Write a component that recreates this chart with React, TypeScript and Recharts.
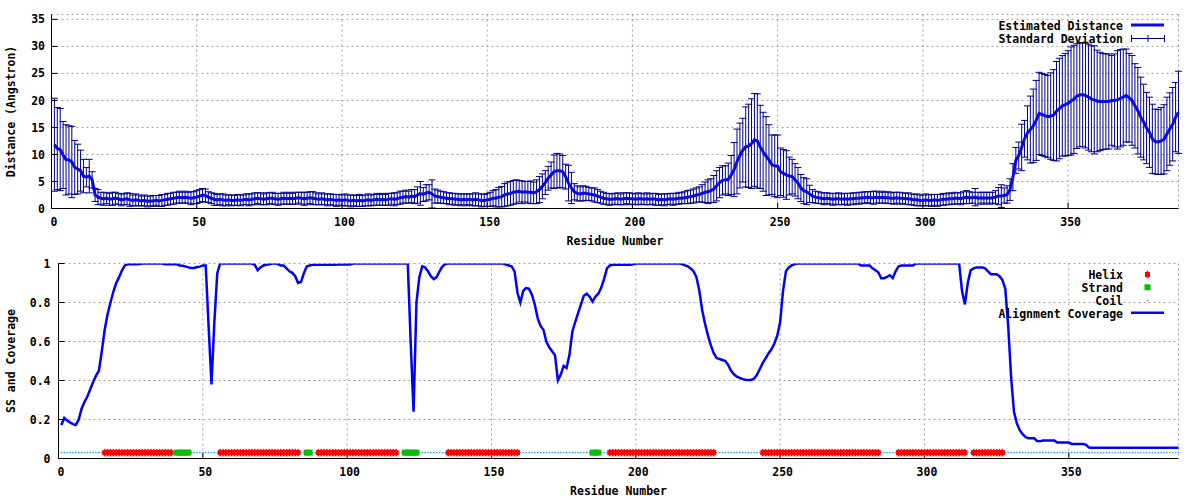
import React from 'react'
import { ComposedChart, Line, Scatter, XAxis, YAxis, CartesianGrid, ErrorBar, Legend } from 'recharts'

const FONT = "'DejaVu Sans Mono', 'Liberation Mono', monospace"
const MEAN_BLUE = '#0a0ae6'
const BAR_NAVY = '#00008b'
const COV_BLUE = '#0000ff'
const HELIX_RED = '#ff0000'
const STRAND_GREEN = '#00c000'
const COIL_BLUE = '#1e90ff'
const GRID = '#a0a0a0'

const xTicks = [0, 50, 100, 150, 200, 250, 300, 350]
const distTicks = [0, 5, 10, 15, 20, 25, 30, 35]
const covTicks = [0, 0.2, 0.4, 0.6, 0.8, 1]

// estimated distance per residue (1..388)
const meanDist = [
  11.8, 11.1, 10.9, 9.9, 9.0, 9.0, 8.6, 7.6, 7.3, 7.0,
  6.0, 5.8, 6.0, 5.3, 2.5, 2.1, 1.9, 1.8, 1.9, 1.7,
  1.8, 1.9, 1.8, 1.6, 1.7, 1.8, 1.6, 1.5, 1.6, 1.5,
  1.4, 1.5, 1.3, 1.4, 1.4, 1.5, 1.4, 1.5, 1.6, 1.7,
  1.8, 1.9, 2.0, 2.1, 2.0, 2.1, 2.0, 1.9, 2.0, 2.1,
  2.3, 2.5, 2.4, 2.1, 1.9, 1.7, 1.6, 1.7, 1.6, 1.5,
  1.6, 1.5, 1.5, 1.6, 1.5, 1.6, 1.7, 1.6, 1.7, 1.8,
  1.9, 1.8, 1.7, 1.8, 1.9, 1.9, 1.8, 1.7, 1.8, 1.9,
  1.8, 1.9, 1.8, 1.9, 2.0, 1.9, 1.8, 1.9, 2.0, 1.9,
  1.8, 1.7, 1.8, 1.7, 1.6, 1.7, 1.6, 1.5, 1.6, 1.5,
  1.6, 1.5, 1.4, 1.5, 1.4, 1.5, 1.4, 1.5, 1.6, 1.5,
  1.6, 1.7, 1.6, 1.7, 1.6, 1.7, 1.8, 1.7, 1.8, 2.0,
  2.1, 2.2, 2.1, 2.3, 2.2, 2.5, 2.8, 2.6, 2.9, 3.0,
  2.7, 2.3, 2.2, 2.1, 2.0, 1.9, 1.8, 1.8, 1.7, 1.7,
  1.6, 1.7, 1.6, 1.7, 1.6, 1.7, 1.6, 1.5, 1.5, 1.6,
  1.7, 1.9, 1.9, 2.1, 2.2, 2.5, 2.7, 2.8, 3.0, 3.1,
  3.2, 3.0, 3.1, 3.0, 3.0, 2.9, 3.1, 3.5, 4.1, 4.8,
  5.6, 6.2, 6.8, 7.0, 7.0, 6.8, 5.9, 4.7, 3.8, 3.1,
  2.8, 2.7, 2.8, 2.8, 2.7, 2.6, 2.5, 2.3, 2.1, 1.9,
  1.8, 1.7, 1.7, 1.8, 1.8, 1.7, 1.8, 1.9, 1.8, 1.8,
  1.7, 1.8, 1.8, 1.7, 1.8, 1.7, 1.8, 1.7, 1.6, 1.7,
  1.6, 1.7, 1.8, 1.7, 1.8, 1.9, 1.9, 2.0, 2.1, 2.2,
  2.3, 2.5, 2.6, 2.8, 3.0, 3.1, 3.3, 3.6, 4.2, 4.8,
  5.2, 5.3, 5.4, 6.2, 7.2, 8.7, 9.8, 10.8, 11.4, 11.6,
  12.0, 12.7, 12.5, 11.4, 10.5, 9.7, 9.0, 8.1, 7.9, 7.8,
  6.8, 6.5, 6.2, 6.0, 5.9, 5.3, 4.7, 3.8, 3.3, 3.1,
  2.7, 2.3, 2.1, 2.0, 1.9, 1.8, 1.9, 1.8, 1.7, 1.8,
  1.8, 1.7, 1.8, 1.7, 1.8, 1.8, 1.9, 1.9, 2.0, 2.0,
  2.1, 2.0, 2.0, 2.1, 2.0, 2.1, 2.0, 2.0, 1.9, 1.9,
  2.0, 1.9, 1.9, 1.8, 1.8, 1.7, 1.6, 1.6, 1.5, 1.5,
  1.6, 1.5, 1.5, 1.6, 1.5, 1.6, 1.7, 1.7, 1.8, 1.8,
  1.9, 1.9, 1.8, 2.0, 2.1, 2.0, 2.0, 2.1, 1.9, 2.0,
  1.9, 2.0, 1.9, 2.0, 2.1, 2.3, 2.3, 2.4, 2.6, 3.5,
  5.8, 8.9, 9.8, 11.3, 12.9, 14.0, 14.6, 15.3, 16.3, 17.6,
  17.4, 17.2, 17.0, 17.1, 17.3, 18.0, 18.5, 19.0, 19.2, 19.5,
  19.9, 20.2, 20.8, 21.0, 21.1, 20.9, 20.6, 20.3, 20.1, 19.9,
  19.8, 19.8, 19.8, 19.8, 20.0, 20.0, 20.1, 20.4, 20.6, 20.9,
  20.5, 20.0, 19.0, 18.1, 16.9, 16.0, 14.9, 14.1, 12.9, 12.4,
  12.3, 12.5, 12.8, 13.8, 14.7, 15.6, 16.9, 17.8,
]

// standard deviation per residue
const stdDist = [
  8.6, 7.6, 7.6, 6.2, 6.5, 6.3, 6.6, 5.0, 4.6, 3.8,
  3.1, 1.8, 3.1, 1.5, 1.2, 1.4, 1.1, 1.2, 1.0, 1.1,
  1.2, 1.1, 1.0, 1.1, 1.0, 1.1, 1.2, 1.0, 1.1, 1.0,
  0.9, 1.0, 1.0, 0.9, 1.0, 0.9, 1.0, 1.1, 1.0, 1.1,
  1.0, 1.1, 1.0, 1.1, 1.0, 1.1, 1.0, 1.2, 1.1, 1.2,
  1.2, 1.2, 1.2, 1.0, 1.0, 1.1, 1.0, 1.0, 1.1, 1.0,
  0.9, 1.0, 0.9, 1.0, 1.0, 0.9, 1.0, 1.1, 1.0, 1.1,
  1.0, 1.1, 1.0, 1.1, 1.0, 1.1, 1.0, 1.1, 1.0, 1.1,
  1.0, 1.1, 1.0, 1.1, 1.0, 1.1, 1.2, 1.1, 1.1, 1.2,
  1.1, 1.0, 1.1, 1.0, 1.1, 1.0, 1.0, 1.1, 1.0, 1.0,
  1.1, 1.0, 1.1, 1.0, 1.0, 1.1, 1.0, 1.0, 1.1, 1.0,
  1.0, 1.1, 1.0, 1.1, 1.0, 1.1, 1.0, 1.2, 1.1, 1.2,
  1.1, 1.2, 1.1, 1.2, 1.3, 1.5, 2.2, 1.3, 1.5, 1.4,
  2.6, 1.3, 1.2, 1.1, 1.1, 1.0, 1.1, 1.0, 1.1, 1.0,
  1.1, 1.0, 1.1, 1.0, 1.1, 1.2, 1.1, 1.2, 1.1, 1.2,
  1.3, 1.4, 1.6, 1.8, 1.9, 2.1, 2.2, 2.2, 2.2, 2.2,
  2.0, 2.1, 1.9, 2.0, 2.1, 2.0, 2.2, 2.4, 2.3, 2.2,
  2.2, 2.4, 3.1, 3.2, 3.1, 3.0, 2.3, 3.3, 2.9, 1.5,
  1.4, 1.3, 1.4, 1.3, 1.2, 1.2, 1.3, 1.2, 1.1, 1.1,
  1.0, 1.1, 1.0, 1.0, 1.1, 1.0, 1.1, 1.0, 1.1, 1.0,
  1.0, 1.1, 1.0, 1.0, 1.1, 1.0, 1.0, 1.1, 1.0, 1.0,
  1.1, 1.0, 1.0, 1.1, 1.0, 1.1, 1.0, 1.1, 1.2, 1.2,
  1.3, 1.3, 1.4, 1.6, 1.9, 2.2, 2.2, 2.5, 2.8, 2.8,
  2.7, 2.6, 3.0, 3.6, 5.0, 6.0, 6.0, 5.9, 7.4, 7.7,
  8.3, 8.6, 8.7, 7.7, 7.3, 7.3, 6.5, 5.5, 5.7, 5.8,
  4.4, 4.4, 4.5, 3.5, 3.2, 3.0, 2.9, 2.5, 2.4, 2.4,
  1.6, 1.2, 1.1, 1.1, 1.0, 1.1, 1.0, 1.0, 1.1, 1.0,
  1.1, 1.0, 1.0, 1.1, 1.0, 1.1, 1.0, 1.1, 1.0, 1.1,
  1.0, 1.1, 1.2, 1.1, 1.0, 1.1, 1.0, 1.1, 1.0, 1.1,
  1.0, 1.1, 1.0, 1.0, 1.1, 1.0, 1.0, 1.1, 1.0, 1.0,
  1.1, 1.0, 1.1, 1.0, 1.1, 1.0, 1.1, 1.0, 1.1, 1.0,
  1.1, 1.0, 1.1, 1.1, 1.2, 1.1, 1.0, 1.6, 1.1, 1.0,
  1.1, 1.0, 1.1, 1.0, 1.2, 1.6, 2.1, 1.4, 1.6, 2.0,
  2.5, 2.4, 2.5, 4.3, 3.4, 5.0, 6.2, 6.8, 7.4, 7.6,
  7.6, 7.6, 7.6, 8.0, 8.4, 9.2, 9.3, 9.3, 9.5, 9.7,
  10.0, 10.0, 9.7, 9.6, 9.6, 9.7, 9.8, 9.8, 10.0, 9.4,
  9.1, 8.9, 8.8, 8.8, 8.3, 8.6, 9.1, 9.0, 8.9, 8.6,
  8.2, 8.3, 7.8, 8.0, 7.4, 7.0, 6.6, 6.5, 6.4, 6.0,
  6.0, 6.2, 6.4, 6.8, 6.7, 6.8, 6.4, 7.6,
]

// alignment coverage per residue
const coverage = [
  0.172, 0.208, 0.195, 0.185, 0.176, 0.172, 0.2, 0.255, 0.29, 0.318,
  0.355, 0.393, 0.425, 0.45, 0.55, 0.66, 0.74, 0.8, 0.855, 0.9,
  0.93, 0.965, 0.99, 0.996, 0.996, 0.996, 0.996, 0.997, 1, 1,
  1, 1, 1, 1, 1, 1, 0.996, 0.996, 0.996, 0.996,
  0.996, 0.99, 0.988, 0.985, 0.98, 0.977, 0.977, 0.982, 0.984, 0.99,
  0.99, 0.68, 0.38, 0.7, 0.95, 1, 1, 1, 1, 1,
  1, 1, 1, 1, 1, 1, 1, 0.993, 0.966, 0.98,
  0.99, 0.994, 0.996, 1, 1, 0.997, 0.99, 0.99, 0.975, 0.96,
  0.952, 0.935, 0.9, 0.905, 0.95, 0.985, 0.99, 0.993, 0.993, 0.993,
  0.993, 0.993, 0.993, 0.993, 0.993, 0.993, 0.995, 0.995, 0.995, 0.995,
  0.995, 1, 1, 1, 1, 1, 1, 1, 1, 1,
  1, 1, 1, 1, 1, 1, 1, 1, 1, 1,
  1, 0.6, 0.24, 0.8, 0.93, 0.985, 0.98, 0.96, 0.935, 0.92,
  0.93, 0.96, 0.985, 0.997, 1, 1, 1, 1, 1, 1,
  1, 1, 1, 1, 1, 1, 1, 1, 1, 1,
  1, 1, 1, 1, 0.995, 0.99, 0.985, 0.96, 0.85, 0.8,
  0.86, 0.875, 0.87, 0.84, 0.79, 0.72, 0.68, 0.66, 0.6, 0.57,
  0.55, 0.53, 0.4, 0.43, 0.475, 0.465, 0.53, 0.65, 0.7, 0.745,
  0.79, 0.835, 0.845, 0.83, 0.805, 0.83, 0.845, 0.875, 0.92, 0.975,
  0.99, 0.993, 0.993, 0.993, 0.993, 0.993, 0.993, 0.993, 0.996, 1,
  1, 1, 1, 1, 1, 1, 1, 1, 1, 1,
  1, 1, 1, 1, 1, 0.997, 0.99, 0.985, 0.975, 0.96,
  0.93, 0.86, 0.76, 0.69, 0.63, 0.58, 0.54, 0.515, 0.51, 0.505,
  0.5, 0.48, 0.45, 0.432, 0.42, 0.413, 0.407, 0.404, 0.403, 0.403,
  0.41, 0.43, 0.46, 0.49, 0.515, 0.54, 0.56, 0.59, 0.63, 0.7,
  0.86, 0.96, 0.98, 0.99, 0.997, 1, 1, 1, 1, 1,
  1, 1, 1, 1, 1, 1, 1, 1, 1, 1,
  1, 1, 1, 1, 1, 1, 1, 0.99, 0.99, 0.99,
  0.99, 0.975, 0.965, 0.955, 0.925, 0.925, 0.932, 0.94, 0.925, 0.96,
  0.985, 0.99, 0.99, 0.99, 0.99, 0.99, 1, 1, 1, 1,
  1, 1, 1, 1, 1, 1, 1, 1, 1, 1,
  1, 1, 0.86, 0.79, 0.9, 0.965, 0.975, 0.98, 0.98, 0.98,
  0.975, 0.96, 0.945, 0.945, 0.945, 0.935, 0.915, 0.87, 0.68, 0.42,
  0.24, 0.18, 0.145, 0.125, 0.11, 0.104, 0.104, 0.104, 0.09, 0.088,
  0.092, 0.092, 0.092, 0.092, 0.092, 0.082, 0.082, 0.082, 0.082, 0.082,
  0.075, 0.075, 0.075, 0.075, 0.075, 0.07, 0.056, 0.055, 0.055, 0.055,
  0.055, 0.055, 0.055, 0.055, 0.055, 0.055, 0.055, 0.055, 0.055, 0.055,
  0.055, 0.055, 0.055, 0.055, 0.055, 0.055, 0.055, 0.055, 0.055, 0.055,
  0.055, 0.055, 0.055, 0.055, 0.055, 0.055, 0.055, 0.055,
]

// secondary structure runs: [type, first residue, last residue]
const ssSegments: [string, number, number][] = [
  ['C', 1, 15], ['H', 16, 39], ['C', 40, 40], ['E', 41, 45], ['C', 46, 55],
  ['H', 56, 83], ['C', 84, 85], ['E', 86, 87], ['C', 88, 89], ['H', 90, 117],
  ['C', 118, 119], ['E', 120, 124], ['C', 125, 134], ['H', 135, 159], ['C', 160, 184],
  ['E', 185, 187], ['C', 188, 190], ['H', 191, 227], ['C', 228, 243], ['H', 244, 284],
  ['C', 285, 290], ['H', 291, 314], ['C', 315, 316], ['H', 317, 327], ['C', 328, 388],
]
const SS_LEVEL = 0.03

const distData = meanDist.map((m, i) => ({ res: i + 1, mean: m, sd: stdDist[i] }))
const covData = coverage.map((c, i) => ({ res: i + 1, cov: c }))

function ssPoints(kind: string) {
  const pts: { res: number; ss: number }[] = []
  ssSegments
    .filter((s) => s[0] === kind)
    .forEach(([, a, b]) => {
      for (let r = a; r <= b; r++) pts.push({ res: r, ss: SS_LEVEL })
    })
  return pts
}
const helixPts = ssPoints('H')
const strandPts = ssPoints('E')
const coilPts = ssPoints('C')

const tickText = { fill: '#000', fontSize: 11.5, fontFamily: FONT, fontWeight: 'bold' }
const xTickText = { ...tickText, dx: 2.5 }
const labelText = { fill: '#000', fontSize: 11.5, fontFamily: FONT, fontWeight: 'bold' }

function HelixMark({ cx, cy }: any) {
  if (cx == null || cy == null) return null
  return (
    <g fill={HELIX_RED}>
      <rect x={cx - 2.5} y={cy - 2.5} width={5} height={5} />
      <rect x={cx - 0.75} y={cy - 3.75} width={1.5} height={7.5} />
    </g>
  )
}

function StrandMark({ cx, cy }: any) {
  if (cx == null || cy == null) return null
  return <rect x={cx - 3} y={cy - 3} width={6} height={6} fill={STRAND_GREEN} />
}

function CoilMark({ cx, cy }: any) {
  if (cx == null || cy == null) return null
  return <rect x={cx - 0.75} y={cy - 0.6} width={1.5} height={1.2} fill={COIL_BLUE} />
}

function DistKey() {
  return (
    <svg width={1200} height={250} style={{ position: 'absolute', left: 0, top: 0 }}>
      <text x={1123} y={30} textAnchor="end" {...labelText}>Estimated Distance</text>
      <line x1={1131} x2={1164} y1={25} y2={25} stroke={MEAN_BLUE} strokeWidth={3} />
      <text x={1123} y={42.7} textAnchor="end" {...labelText}>Standard Deviation</text>
      <g stroke={BAR_NAVY} strokeWidth={1}>
        <line x1={1131.5} x2={1164.5} y1={38.5} y2={38.5} />
        <line x1={1131.5} x2={1131.5} y1={35} y2={42} />
        <line x1={1148} x2={1148} y1={35} y2={42} />
        <line x1={1164.5} x2={1164.5} y1={35} y2={42} />
      </g>
    </svg>
  )
}

function CovKey() {
  return (
    <svg width={1200} height={250} style={{ position: 'absolute', left: 0, top: 0 }}>
      <text x={1123} y={29.3} textAnchor="end" {...labelText}>Helix</text>
      <HelixMark cx={1147.5} cy={24.5} />
      <text x={1123} y={42} textAnchor="end" {...labelText}>Strand</text>
      <StrandMark cx={1147.5} cy={37.3} />
      <text x={1123} y={55} textAnchor="end" {...labelText}>Coil</text>
      <CoilMark cx={1147.7} cy={50.7} />
      <text x={1123} y={67.7} textAnchor="end" {...labelText}>Alignment Coverage</text>
      <line x1={1131} x2={1164} y1={62.7} y2={62.7} stroke={COV_BLUE} strokeWidth={2.5} />
    </svg>
  )
}

function DistanceChart() {
  return (
    <ComposedChart width={1200} height={250} data={distData} margin={{ top: 14.5, right: 21.5, bottom: 0, left: 0.5 }}>
      <CartesianGrid stroke={GRID} strokeDasharray="2 3" />
      <XAxis
        dataKey="res"
        type="number"
        domain={[0, 388]}
        ticks={xTicks}
        interval={0}
        height={41.5}
        stroke="#000"
        tickSize={-6}
        tickMargin={15.8}
        tick={xTickText}
        label={{ value: 'Residue Number', position: 'insideBottom', offset: 5, ...labelText }}
      />
      <XAxis xAxisId="top" orientation="top" dataKey="res" type="number" domain={[0, 388]} ticks={xTicks} interval={0} height={0} stroke="#000" tickSize={-6} tick={false} allowDataOverflow />
      <YAxis
        type="number"
        domain={[0, 35.9]}
        ticks={distTicks}
        interval={0}
        width={51}
        stroke="#000"
        tickSize={-6}
        tickMargin={12.5}
        tick={tickText}
        allowDataOverflow
        label={{ value: 'Distance (Angstron)', angle: -90, position: 'insideLeft', offset: 10.4, textAnchor: 'middle', style: { textAnchor: 'middle' }, ...labelText }}
      />
      <YAxis yAxisId="right" orientation="right" type="number" domain={[0, 35.9]} ticks={distTicks} interval={0} width={0} stroke="#000" tickSize={-6} tick={false} allowDataOverflow />
      <Line dataKey="mean" stroke="none" dot={false} isAnimationActive={false}>
        <ErrorBar dataKey="sd" width={3.5} stroke={BAR_NAVY} strokeWidth={1} direction="y" />
      </Line>
      <Line dataKey="mean" type="linear" stroke={MEAN_BLUE} strokeWidth={3} dot={false} isAnimationActive={false} />
      <Legend
        layout="vertical"
        align="center"
        verticalAlign="middle"
        content={() => <DistKey />}
        wrapperStyle={{ left: 0, top: 0, width: 1200, height: 250, pointerEvents: 'none' }}
      />
    </ComposedChart>
  )
}

function CoverageChart() {
  return (
    <ComposedChart width={1200} height={250} data={covData} margin={{ top: 13.5, right: 21.5, bottom: 0, left: 0.5 }}>
      <CartesianGrid stroke={GRID} strokeDasharray="2 3" />
      <XAxis
        dataKey="res"
        type="number"
        domain={[0, 388]}
        ticks={xTicks}
        interval={0}
        height={41.5}
        stroke="#000"
        tickSize={-6}
        tickMargin={15.8}
        tick={xTickText}
        label={{ value: 'Residue Number', position: 'insideBottom', offset: 5, ...labelText }}
      />
      <XAxis xAxisId="top" orientation="top" dataKey="res" type="number" domain={[0, 388]} ticks={xTicks} interval={0} height={0} stroke="#000" tickSize={-6} tick={false} allowDataOverflow />
      <YAxis
        type="number"
        domain={[0, 1]}
        ticks={covTicks}
        interval={0}
        width={58}
        stroke="#000"
        tickSize={-6}
        tickMargin={14}
        tick={tickText}
        allowDataOverflow
        label={{ value: 'SS and Coverage', angle: -90, position: 'insideLeft', offset: 10.4, textAnchor: 'middle', style: { textAnchor: 'middle' }, ...labelText }}
      />
      <YAxis yAxisId="right" orientation="right" type="number" domain={[0, 1]} ticks={covTicks} interval={0} width={0} stroke="#000" tickSize={-6} tick={false} allowDataOverflow />
      <Scatter data={coilPts} dataKey="ss" shape={CoilMark} isAnimationActive={false} />
      <Scatter data={helixPts} dataKey="ss" shape={HelixMark} isAnimationActive={false} />
      <Scatter data={strandPts} dataKey="ss" shape={StrandMark} isAnimationActive={false} />
      <Line dataKey="cov" type="linear" stroke={COV_BLUE} strokeWidth={2.5} dot={false} isAnimationActive={false} />
      <Legend
        layout="vertical"
        align="center"
        verticalAlign="middle"
        content={() => <CovKey />}
        wrapperStyle={{ left: 0, top: 0, width: 1200, height: 250, pointerEvents: 'none' }}
      />
    </ComposedChart>
  )
}

export default function App() {
  return (
    <div style={{ position: 'absolute', left: 0, top: 0, width: 1200, height: 500, background: '#fff' }}>
      <div style={{ position: 'absolute', left: 0, top: 0 }}>
        <DistanceChart />
      </div>
      <div style={{ position: 'absolute', left: 0, top: 250 }}>
        <CoverageChart />
      </div>
    </div>
  )
}
